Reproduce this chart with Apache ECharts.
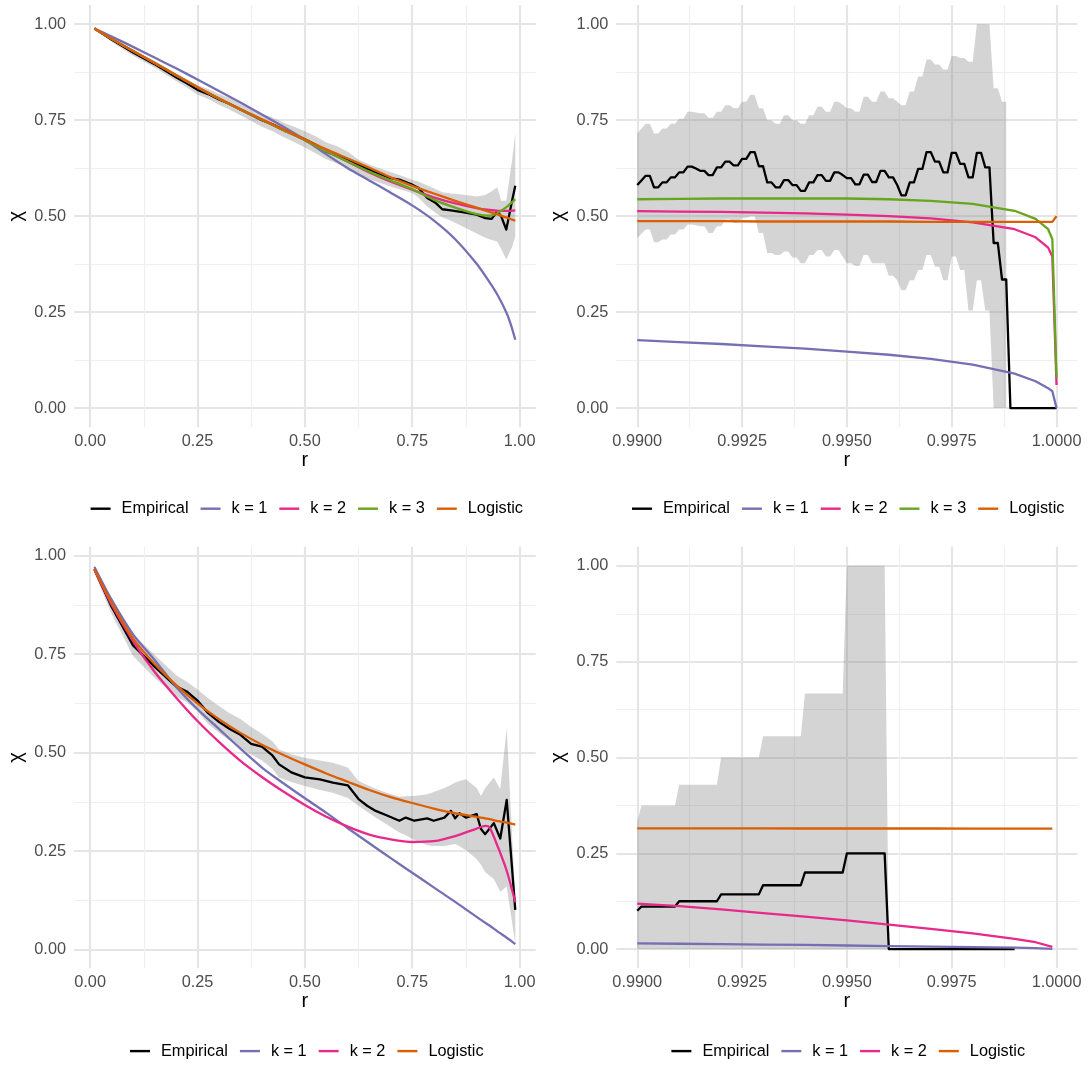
<!DOCTYPE html>
<html>
<head>
<meta charset="utf-8">
<script src="https://cdn.jsdelivr.net/npm/echarts@6/dist/echarts.min.js"></script>
<style>
  html, body { margin: 0; padding: 0; background: #ffffff; }
  #chart { width: 1089px; height: 1065px; }
</style>
</head>
<body>
<div id="chart"></div>
<script>
// ---------- Panel A (top left): r in [0.01, 0.99] ----------
const rFitA = [0.01, 0.05, 0.1, 0.15, 0.2, 0.25, 0.3, 0.35, 0.4, 0.45, 0.5, 0.55, 0.6, 0.65, 0.7, 0.75, 0.8, 0.85, 0.9, 0.93, 0.95, 0.97, 0.98, 0.99];
const chiK1A = [0.989, 0.968, 0.941, 0.913, 0.885, 0.856, 0.826, 0.796, 0.765, 0.733, 0.699, 0.661, 0.625, 0.593, 0.561, 0.528, 0.489, 0.440, 0.376, 0.328, 0.292, 0.247, 0.216, 0.178];
const chiK2A = [0.989, 0.962, 0.930, 0.899, 0.867, 0.836, 0.806, 0.778, 0.751, 0.724, 0.698, 0.669, 0.642, 0.614, 0.590, 0.569, 0.549, 0.533, 0.521, 0.516, 0.514, 0.514, 0.514, 0.515];
const chiK3A = [0.989, 0.962, 0.930, 0.899, 0.867, 0.836, 0.806, 0.778, 0.751, 0.724, 0.698, 0.669, 0.642, 0.616, 0.593, 0.570, 0.543, 0.522, 0.505, 0.501, 0.509, 0.524, 0.534, 0.544];
const chiLogA = [0.989, 0.962, 0.930, 0.899, 0.867, 0.836, 0.807, 0.779, 0.752, 0.726, 0.700, 0.674, 0.650, 0.626, 0.601, 0.579, 0.559, 0.540, 0.522, 0.511, 0.504, 0.496, 0.492, 0.488];

const rEmpA = [0.01, 0.05, 0.1, 0.15, 0.2, 0.225, 0.25, 0.275, 0.3, 0.325, 0.35, 0.375, 0.4, 0.425, 0.45, 0.475, 0.5, 0.525,
  0.55, 0.575, 0.6, 0.625, 0.66, 0.7, 0.72, 0.75, 0.765, 0.785, 0.805, 0.82, 0.84, 0.87, 0.9, 0.92, 0.935, 0.948, 0.957, 0.969, 0.983, 0.99];
const chiEmpA = [0.989, 0.960, 0.926, 0.896, 0.862, 0.846, 0.829, 0.818, 0.804, 0.792, 0.778, 0.764, 0.750, 0.739, 0.725, 0.713, 0.700, 0.686,
  0.668, 0.657, 0.646, 0.634, 0.616, 0.599, 0.595, 0.582, 0.573, 0.547, 0.534, 0.518, 0.515, 0.510, 0.504, 0.495, 0.493, 0.512, 0.500, 0.465, 0.543, 0.579];
const ciUpA = [0.992, 0.966, 0.934, 0.905, 0.872, 0.857, 0.841, 0.831, 0.818, 0.807, 0.793, 0.780, 0.767, 0.757, 0.744, 0.733, 0.721, 0.708,
  0.692, 0.682, 0.668, 0.647, 0.630, 0.615, 0.607, 0.595, 0.590, 0.580, 0.570, 0.562, 0.559, 0.556, 0.551, 0.555, 0.565, 0.575, 0.540, 0.540, 0.650, 0.716];
const ciLowA = [0.986, 0.954, 0.918, 0.887, 0.852, 0.835, 0.817, 0.805, 0.790, 0.777, 0.763, 0.748, 0.733, 0.721, 0.706, 0.693, 0.679, 0.664,
  0.648, 0.637, 0.625, 0.608, 0.592, 0.577, 0.570, 0.560, 0.548, 0.525, 0.508, 0.497, 0.488, 0.472, 0.455, 0.444, 0.438, 0.434, 0.415, 0.387, 0.421, 0.447];

// ---------- Panel B (top right): r in [0.99, 1] ----------
const rFitB = [0.99, 0.991, 0.992, 0.993, 0.994, 0.995, 0.996, 0.997, 0.998, 0.999, 0.9995, 0.9998, 0.9999, 1.0];
const chiK1B = [0.177, 0.172, 0.167, 0.161, 0.155, 0.147, 0.139, 0.128, 0.113, 0.090, 0.070, 0.052, 0.044, 0.000];
const chiK2B = [0.513, 0.512, 0.511, 0.509, 0.507, 0.504, 0.500, 0.494, 0.484, 0.466, 0.445, 0.418, 0.395, 0.060];
const chiK3B = [0.544, 0.545, 0.546, 0.546, 0.546, 0.546, 0.544, 0.540, 0.532, 0.514, 0.493, 0.466, 0.440, 0.079];
const chiLogB = [0.487, 0.487, 0.487, 0.486, 0.486, 0.486, 0.486, 0.485, 0.485, 0.485, 0.485, 0.485, 0.485, 0.500];

const rEmpB = [
  0.9900, 0.9901, 0.9902, 0.9903, 0.9904, 0.9905, 0.9906, 0.9907, 0.9908, 0.9909,
  0.9910, 0.9911, 0.9912, 0.9913, 0.9914, 0.9915, 0.9916, 0.9917, 0.9918, 0.9919,
  0.9920, 0.9921, 0.9922, 0.9923, 0.9924, 0.9925, 0.9926, 0.9927, 0.9928, 0.9929,
  0.9930, 0.9931, 0.9932, 0.9933, 0.9934, 0.9935, 0.9936, 0.9937, 0.9938, 0.9939,
  0.9940, 0.9941, 0.9942, 0.9943, 0.9944, 0.9945, 0.9946, 0.9947, 0.9948, 0.9949,
  0.9950, 0.9951, 0.9952, 0.9953, 0.9954, 0.9955, 0.9956, 0.9957, 0.9958, 0.9959,
  0.9960, 0.9961, 0.9962, 0.9963, 0.9964, 0.9965, 0.9966, 0.9967, 0.9968, 0.9969,
  0.9970, 0.9971, 0.9972, 0.9973, 0.9974, 0.9975, 0.9976, 0.9977, 0.9978, 0.9979,
  0.9980, 0.9981, 0.9982, 0.9983, 0.9984, 0.9985, 0.9986, 0.9987, 0.9988, 0.9989,
  0.9990, 0.9991, 0.9992, 0.9993, 0.9994, 0.9995, 0.9996, 0.9997, 0.9998, 0.9999,
  1.0000];
const chiEmpB = [
  0.581, 0.593, 0.605, 0.605, 0.575, 0.575, 0.588, 0.588, 0.601, 0.601,
  0.614, 0.614, 0.629, 0.629, 0.624, 0.618, 0.618, 0.607, 0.607, 0.627,
  0.627, 0.642, 0.642, 0.632, 0.632, 0.649, 0.649, 0.667, 0.667, 0.630,
  0.630, 0.588, 0.588, 0.575, 0.575, 0.594, 0.594, 0.581, 0.581, 0.566,
  0.566, 0.588, 0.588, 0.607, 0.607, 0.592, 0.592, 0.614, 0.614, 0.607,
  0.599, 0.599, 0.583, 0.583, 0.608, 0.608, 0.589, 0.589, 0.618, 0.618,
  0.601, 0.601, 0.581, 0.554, 0.554, 0.588, 0.588, 0.623, 0.623, 0.667,
  0.667, 0.642, 0.642, 0.614, 0.614, 0.665, 0.665, 0.636, 0.636, 0.601,
  0.601, 0.665, 0.665, 0.627, 0.627, 0.430, 0.430, 0.335, 0.335, 0.000,
  0.000, 0.000, 0.000, 0.000, 0.000, 0.000, 0.000, 0.000, 0.000, 0.000,
  0.000];
const ciUpB = [
  0.715, 0.728, 0.741, 0.741, 0.715, 0.715, 0.728, 0.728, 0.741, 0.741,
  0.754, 0.754, 0.772, 0.772, 0.770, 0.768, 0.768, 0.756, 0.756, 0.772,
  0.772, 0.789, 0.789, 0.781, 0.781, 0.798, 0.798, 0.816, 0.816, 0.781,
  0.781, 0.750, 0.750, 0.741, 0.741, 0.763, 0.763, 0.750, 0.750, 0.741,
  0.741, 0.763, 0.763, 0.785, 0.785, 0.772, 0.772, 0.798, 0.798, 0.790,
  0.781, 0.781, 0.772, 0.772, 0.811, 0.811, 0.798, 0.798, 0.825, 0.825,
  0.807, 0.807, 0.798, 0.789, 0.789, 0.825, 0.825, 0.864, 0.864, 0.908,
  0.908, 0.895, 0.895, 0.882, 0.882, 0.917, 0.917, 0.912, 0.912, 0.902,
  0.902, 1.000, 1.000, 1.000, 1.000, 0.833, 0.833, 0.798, 0.798];
const ciLowB = [
  0.443, 0.454, 0.465, 0.465, 0.432, 0.432, 0.439, 0.439, 0.452, 0.452,
  0.465, 0.465, 0.478, 0.478, 0.476, 0.474, 0.474, 0.456, 0.456, 0.474,
  0.474, 0.491, 0.491, 0.482, 0.482, 0.496, 0.496, 0.500, 0.500, 0.456,
  0.456, 0.404, 0.404, 0.399, 0.399, 0.408, 0.408, 0.392, 0.392, 0.377,
  0.377, 0.399, 0.399, 0.412, 0.412, 0.395, 0.395, 0.412, 0.412, 0.395,
  0.377, 0.377, 0.370, 0.370, 0.399, 0.399, 0.377, 0.377, 0.377, 0.377,
  0.345, 0.345, 0.333, 0.307, 0.307, 0.333, 0.333, 0.360, 0.360, 0.399,
  0.399, 0.368, 0.368, 0.333, 0.333, 0.395, 0.395, 0.360, 0.360, 0.254,
  0.254, 0.333, 0.333, 0.254, 0.254, 0.000, 0.000, 0.000, 0.000];

// ---------- Panel C (bottom left): r in [0.01, 0.99] ----------
const rFitC = [0.01, 0.05, 0.1, 0.15, 0.2, 0.25, 0.3, 0.35, 0.4, 0.45, 0.5, 0.55, 0.6, 0.65, 0.7, 0.75, 0.8, 0.85, 0.9, 0.92, 0.93, 0.95, 0.97, 0.99];
const chiK1C = [0.971, 0.888, 0.800, 0.735, 0.667, 0.610, 0.560, 0.510, 0.462, 0.422, 0.384, 0.347, 0.308, 0.270, 0.232, 0.195, 0.158, 0.121, 0.083, 0.068, 0.061, 0.045, 0.030, 0.014];
const chiK2C = [0.965, 0.875, 0.783, 0.705, 0.640, 0.580, 0.527, 0.479, 0.438, 0.401, 0.367, 0.337, 0.312, 0.292, 0.280, 0.273, 0.275, 0.288, 0.307, 0.314, 0.310, 0.259, 0.200, 0.120];
const chiLogC = [0.965, 0.880, 0.790, 0.725, 0.672, 0.625, 0.585, 0.550, 0.520, 0.494, 0.470, 0.447, 0.426, 0.405, 0.387, 0.372, 0.358, 0.346, 0.337, 0.333, 0.331, 0.326, 0.322, 0.317];

const rEmpC = [0.01, 0.05, 0.1, 0.15, 0.2, 0.225, 0.25, 0.275, 0.3, 0.325, 0.35, 0.375, 0.4, 0.425,
  0.44, 0.47, 0.5, 0.535, 0.565, 0.6, 0.625, 0.645, 0.665, 0.69, 0.72, 0.735, 0.755, 0.785, 0.8, 0.825, 0.84, 0.85, 0.86, 0.875, 0.9, 0.91, 0.92, 0.94, 0.955, 0.97, 0.99];
const chiEmpC = [0.965, 0.870, 0.772, 0.718, 0.668, 0.655, 0.632, 0.600, 0.578, 0.560, 0.545, 0.522, 0.515, 0.492,
  0.470, 0.449, 0.437, 0.432, 0.424, 0.417, 0.382, 0.365, 0.352, 0.341, 0.327, 0.335, 0.327, 0.333, 0.327, 0.335, 0.352, 0.333, 0.346, 0.335, 0.344, 0.306, 0.293, 0.321, 0.282, 0.380, 0.101];
const ciUpC = [0.977, 0.888, 0.800, 0.748, 0.697, 0.680, 0.660, 0.638, 0.618, 0.600, 0.585, 0.565, 0.548, 0.528,
  0.508, 0.495, 0.487, 0.480, 0.474, 0.462, 0.428, 0.418, 0.408, 0.398, 0.388, 0.389, 0.390, 0.394, 0.400, 0.410, 0.418, 0.424, 0.428, 0.432, 0.410, 0.390, 0.410, 0.437, 0.407, 0.563, 0.128];
const ciLowC = [0.955, 0.852, 0.745, 0.690, 0.643, 0.628, 0.605, 0.572, 0.550, 0.530, 0.512, 0.495, 0.480, 0.458,
  0.437, 0.425, 0.415, 0.405, 0.398, 0.385, 0.365, 0.350, 0.335, 0.318, 0.297, 0.290, 0.278, 0.265, 0.263, 0.263, 0.266, 0.268, 0.262, 0.252, 0.230, 0.215, 0.196, 0.179, 0.147, 0.160, 0.015];

// ---------- Panel D (bottom right): r in [0.99, 1] ----------
const rFitD = [0.99, 0.991, 0.992, 0.993, 0.994, 0.995, 0.996, 0.997, 0.998, 0.999, 0.9995, 0.9999];
const chiK1D = [0.0150, 0.0140, 0.0130, 0.0120, 0.0110, 0.0095, 0.0080, 0.0068, 0.0055, 0.0040, 0.0025, 0.0008];
const chiK2D = [0.119, 0.112, 0.104, 0.094, 0.085, 0.075, 0.064, 0.053, 0.041, 0.027, 0.018, 0.006];
const chiLogD = [0.3150, 0.3150, 0.3149, 0.3149, 0.3148, 0.3148, 0.3147, 0.3147, 0.3146, 0.3146, 0.3145, 0.3145];

const rEmpD = [
  0.9900, 0.9901, 0.9902, 0.9903, 0.9904, 0.9905, 0.9906, 0.9907, 0.9908, 0.9909,
  0.9910, 0.9911, 0.9912, 0.9913, 0.9914, 0.9915, 0.9916, 0.9917, 0.9918, 0.9919,
  0.9920, 0.9921, 0.9922, 0.9923, 0.9924, 0.9925, 0.9926, 0.9927, 0.9928, 0.9929,
  0.9930, 0.9931, 0.9932, 0.9933, 0.9934, 0.9935, 0.9936, 0.9937, 0.9938, 0.9939,
  0.9940, 0.9941, 0.9942, 0.9943, 0.9944, 0.9945, 0.9946, 0.9947, 0.9948, 0.9949,
  0.9950, 0.9951, 0.9952, 0.9953, 0.9954, 0.9955, 0.9956, 0.9957, 0.9958, 0.9959,
  0.9960, 0.9961, 0.9962, 0.9963, 0.9964, 0.9965, 0.9966, 0.9967, 0.9968, 0.9969,
  0.9970, 0.9971, 0.9972, 0.9973, 0.9974, 0.9975, 0.9976, 0.9977, 0.9978, 0.9979,
  0.9980, 0.9981, 0.9982, 0.9983, 0.9984, 0.9985, 0.9986, 0.9987, 0.9988, 0.9989,
  0.9990];
const chiEmpD = [
  0.1000, 0.1111, 0.1111, 0.1111, 0.1111, 0.1111, 0.1111, 0.1111, 0.1111, 0.1111,
  0.1250, 0.1250, 0.1250, 0.1250, 0.1250, 0.1250, 0.1250, 0.1250, 0.1250, 0.1250,
  0.1429, 0.1429, 0.1429, 0.1429, 0.1429, 0.1429, 0.1429, 0.1429, 0.1429, 0.1429,
  0.1667, 0.1667, 0.1667, 0.1667, 0.1667, 0.1667, 0.1667, 0.1667, 0.1667, 0.1667,
  0.2000, 0.2000, 0.2000, 0.2000, 0.2000, 0.2000, 0.2000, 0.2000, 0.2000, 0.2000,
  0.2500, 0.2500, 0.2500, 0.2500, 0.2500, 0.2500, 0.2500, 0.2500, 0.2500, 0.2500,
  0, 0, 0, 0, 0, 0, 0, 0, 0, 0,
  0, 0, 0, 0, 0, 0, 0, 0, 0, 0,
  0, 0, 0, 0, 0, 0, 0, 0, 0, 0,
  0];
const ciUpD = [
  0.3333, 0.3750, 0.3750, 0.3750, 0.3750, 0.3750, 0.3750, 0.3750, 0.3750, 0.3750,
  0.4286, 0.4286, 0.4286, 0.4286, 0.4286, 0.4286, 0.4286, 0.4286, 0.4286, 0.4286,
  0.5000, 0.5000, 0.5000, 0.5000, 0.5000, 0.5000, 0.5000, 0.5000, 0.5000, 0.5000,
  0.5556, 0.5556, 0.5556, 0.5556, 0.5556, 0.5556, 0.5556, 0.5556, 0.5556, 0.5556,
  0.6667, 0.6667, 0.6667, 0.6667, 0.6667, 0.6667, 0.6667, 0.6667, 0.6667, 0.6667,
  1.0000, 1.0000, 1.0000, 1.0000, 1.0000, 1.0000, 1.0000, 1.0000, 1.0000, 1.0000,
  0];
const ciLowD = [
  0, 0, 0, 0, 0, 0, 0, 0, 0, 0,
  0, 0, 0, 0, 0, 0, 0, 0, 0, 0,
  0, 0, 0, 0, 0, 0, 0, 0, 0, 0,
  0, 0, 0, 0, 0, 0, 0, 0, 0, 0,
  0, 0, 0, 0, 0, 0, 0, 0, 0, 0,
  0, 0, 0, 0, 0, 0, 0, 0, 0, 0,
  0];

// ---------- Axis tick labels ----------
const xTicksWide = ['0.00', '0.25', '0.50', '0.75', '1.00'];
const xTicksNarrow = ['0.9900', '0.9925', '0.9950', '0.9975', '1.0000'];
const yTicks = ['0.00', '0.25', '0.50', '0.75', '1.00'];

// ---------- Styling ----------
const FONT = '"Liberation Sans", Arial, Helvetica, sans-serif';
const TEXT_SIZE = 16.3;
const COLORS = { 'Empirical': '#000000', 'k = 1': '#7570B3', 'k = 2': '#E7298A', 'k = 3': '#66A61E', 'Logistic': '#D95F02' };
const BAND = 'rgba(128,128,128,0.34)';
const GRID_MAJOR = '#E5E5E5';
const GRID_MINOR = '#EFEFEF';
const NONE = 'rgba(0,0,0,0)';
const LINE_W = 2.3;

function isMult(v, m) { const q = v / m; return Math.abs(q - Math.round(q)) < 1e-6; }
function tickList(min, max, step) {
  const out = [];
  for (let k = 0; ; k++) {
    const v = +(min + k * step).toFixed(10);
    if (v > max + 1e-12) break;
    out.push(v);
  }
  if (out[out.length - 1] < max - 1e-12) out.push(max);
  return out;
}
function pairs(xs, ys) { return ys.map((y, i) => [xs[i], y]); }

// axis ranges: min, max, step between candidate ticks, spacing of labelled ticks
const panels = [
  { grid: { left: 74, top: 5, width: 461.7, height: 422.3 },
    x: { min: -0.0375, max: 1.0375, step: 0.0125, major: 0.25, labels: xTicksWide },
    y: { min: -0.05, max: 1.05, step: 0.025, major: 0.25, labels: yTicks } },
  { grid: { left: 616.3, top: 5, width: 461.2, height: 422.3 },
    x: { min: 0.9895, max: 1.0005, step: 0.000125, major: 0.0025, labels: xTicksNarrow },
    y: { min: -0.05, max: 1.05, step: 0.025, major: 0.25, labels: yTicks } },
  { grid: { left: 74, top: 546.7, width: 461.7, height: 421.6 },
    x: { min: -0.0375, max: 1.0375, step: 0.0125, major: 0.25, labels: xTicksWide },
    y: { min: -0.0475, max: 1.0225, step: 0.0025, major: 0.25, labels: yTicks } },
  { grid: { left: 616.3, top: 546.7, width: 461.2, height: 421.6 },
    x: { min: 0.9895, max: 1.0005, step: 0.000125, major: 0.0025, labels: xTicksNarrow },
    y: { min: -0.05, max: 1.05, step: 0.025, major: 0.25, labels: yTicks } }
];

function labelFor(ax) {
  const first = Math.round(parseFloat(ax.labels[0]) / ax.major);
  return function (v) {
    if (!isMult(v, ax.major)) return '';
    const t = ax.labels[Math.round(v / ax.major) - first];
    return t !== undefined ? t : '';
  };
}

function mainAxis(gi, ax, isX) {
  const ticks = tickList(ax.min, ax.max, ax.step);
  const colors = ticks.map(v => isMult(v, ax.major) ? GRID_MAJOR : NONE);
  const a = {
    type: 'value', gridIndex: gi, min: ax.min, max: ax.max, interval: ax.step,
    position: isX ? 'bottom' : 'left',
    axisLine: { show: false }, axisTick: { show: false },
    minorTick: { show: false }, minorSplitLine: { show: false },
    axisLabel: { show: true, margin: isX ? 6.5 : 8, fontSize: TEXT_SIZE, color: '#4D4D4D', fontFamily: FONT,
      formatter: labelFor(ax), showMinLabel: true, showMaxLabel: true, hideOverlap: false },
    splitLine: { show: true, lineStyle: { color: colors, width: 2.2 } },
    name: isX ? 'r' : 'χ', nameLocation: 'middle', nameGap: isX ? 21 : 48,
    nameTextStyle: { fontSize: 20, color: '#000000', fontFamily: FONT }
  };
  if (!isX) a.nameRotate = 90;
  return a;
}
function minorAxis(gi, ax, isX) {
  const ticks = tickList(ax.min, ax.max, ax.step);
  const colors = ticks.map(v => (isMult(v, ax.major / 2) && !isMult(v, ax.major)) ? GRID_MINOR : NONE);
  return {
    type: 'value', gridIndex: gi, min: ax.min, max: ax.max, interval: ax.step,
    position: isX ? 'top' : 'right',
    axisLine: { show: false }, axisTick: { show: false }, axisLabel: { show: false },
    minorTick: { show: false }, minorSplitLine: { show: false },
    splitLine: { show: true, lineStyle: { color: colors, width: 1.2 } }
  };
}

const grids = [], xAxes = [], yAxes = [];
panels.forEach((p, gi) => {
  grids.push(Object.assign({ containLabel: false, outerBoundsMode: 'none' }, p.grid));
  xAxes.push(mainAxis(gi, p.x, true));
  xAxes.push(minorAxis(gi, p.x, true));
  yAxes.push(mainAxis(gi, p.y, false));
  yAxes.push(minorAxis(gi, p.y, false));
});

// confidence band: one polygon (upper edge forward, lower edge back) placed through the axis scales
function bandSeries(gi, xs, lo, up) {
  const rows = lo.map((l, i) => [xs[i], l, up[i]]);
  return {
    type: 'custom', name: 'ci band ' + gi, coordinateSystem: 'cartesian2d',
    xAxisIndex: gi * 2, yAxisIndex: gi * 2, silent: true, z: 1,
    data: rows, encode: { x: 0, y: [1, 2] },
    renderItem: function (params, api) {
      if (params.dataIndex !== 0) return null;
      const pts = [];
      for (let i = 0; i < rows.length; i++) pts.push(api.coord([rows[i][0], rows[i][2]]));
      for (let i = rows.length - 1; i >= 0; i--) pts.push(api.coord([rows[i][0], rows[i][1]]));
      return { type: 'polygon', shape: { points: pts }, style: { fill: BAND, stroke: null } };
    }
  };
}
function curve(gi, name, xs, ys, smooth) {
  return {
    type: 'line', name: name, xAxisIndex: gi * 2, yAxisIndex: gi * 2,
    data: pairs(xs, ys), symbol: 'none', showSymbol: false, z: 2,
    smooth: smooth ? 0.25 : false,
    lineStyle: { color: COLORS[name], width: LINE_W, cap: 'butt', join: 'round' },
    itemStyle: { color: COLORS[name] }
  };
}

const series = [
  bandSeries(0, rEmpA, ciLowA, ciUpA),
  curve(0, 'Empirical', rEmpA, chiEmpA, false),
  curve(0, 'k = 1', rFitA, chiK1A, true),
  curve(0, 'k = 2', rFitA, chiK2A, true),
  curve(0, 'k = 3', rFitA, chiK3A, true),
  curve(0, 'Logistic', rFitA, chiLogA, true),
  bandSeries(1, rEmpB, ciLowB, ciUpB),
  curve(1, 'Empirical', rEmpB, chiEmpB, false),
  curve(1, 'k = 1', rFitB, chiK1B, false),
  curve(1, 'k = 2', rFitB, chiK2B, false),
  curve(1, 'k = 3', rFitB, chiK3B, false),
  curve(1, 'Logistic', rFitB, chiLogB, false),
  bandSeries(2, rEmpC, ciLowC, ciUpC),
  curve(2, 'Empirical', rEmpC, chiEmpC, false),
  curve(2, 'k = 1', rFitC, chiK1C, true),
  curve(2, 'k = 2', rFitC, chiK2C, true),
  curve(2, 'Logistic', rFitC, chiLogC, true),
  bandSeries(3, rEmpD, ciLowD, ciUpD),
  curve(3, 'Empirical', rEmpD, chiEmpD, false),
  curve(3, 'k = 1', rFitD, chiK1D, false),
  curve(3, 'k = 2', rFitD, chiK2D, false),
  curve(3, 'Logistic', rFitD, chiLogD, false)
];

// legends, centred under each column
const namesFive = ['Empirical', 'k = 1', 'k = 2', 'k = 3', 'Logistic'];
const namesFour = ['Empirical', 'k = 1', 'k = 2', 'Logistic'];
const measureCtx = document.createElement('canvas').getContext('2d');
measureCtx.font = TEXT_SIZE + 'px ' + FONT;
function legendAt(names, cx, cy) {
  let w = 0;
  names.forEach((n, i) => { w += 20 + 5 + 6 + measureCtx.measureText(n).width + (i ? 12 : 0); });
  return {
    show: true, data: names, orient: 'horizontal', left: cx - w / 2, top: cy - 8.6, padding: 0,
    itemWidth: 20, itemHeight: 2.4, itemGap: 12, icon: 'rect', selectedMode: false,
    textStyle: { fontSize: TEXT_SIZE, color: '#000000', fontFamily: FONT, padding: [0, 0, 0, 6] }
  };
}

const option = {
  animation: false,
  backgroundColor: '#ffffff',
  textStyle: { fontFamily: FONT },
  grid: grids,
  xAxis: xAxes,
  yAxis: yAxes,
  legend: [
    legendAt(namesFive, 306.8, 509.3),
    legendAt(namesFive, 848.2, 509.3),
    legendAt(namesFour, 306.8, 1051.7),
    legendAt(namesFour, 848.2, 1051.7)
  ],
  series: series
};

const chart = echarts.init(document.getElementById('chart'), null, { renderer: 'canvas' });
chart.setOption(option);
</script>
</body>
</html>
